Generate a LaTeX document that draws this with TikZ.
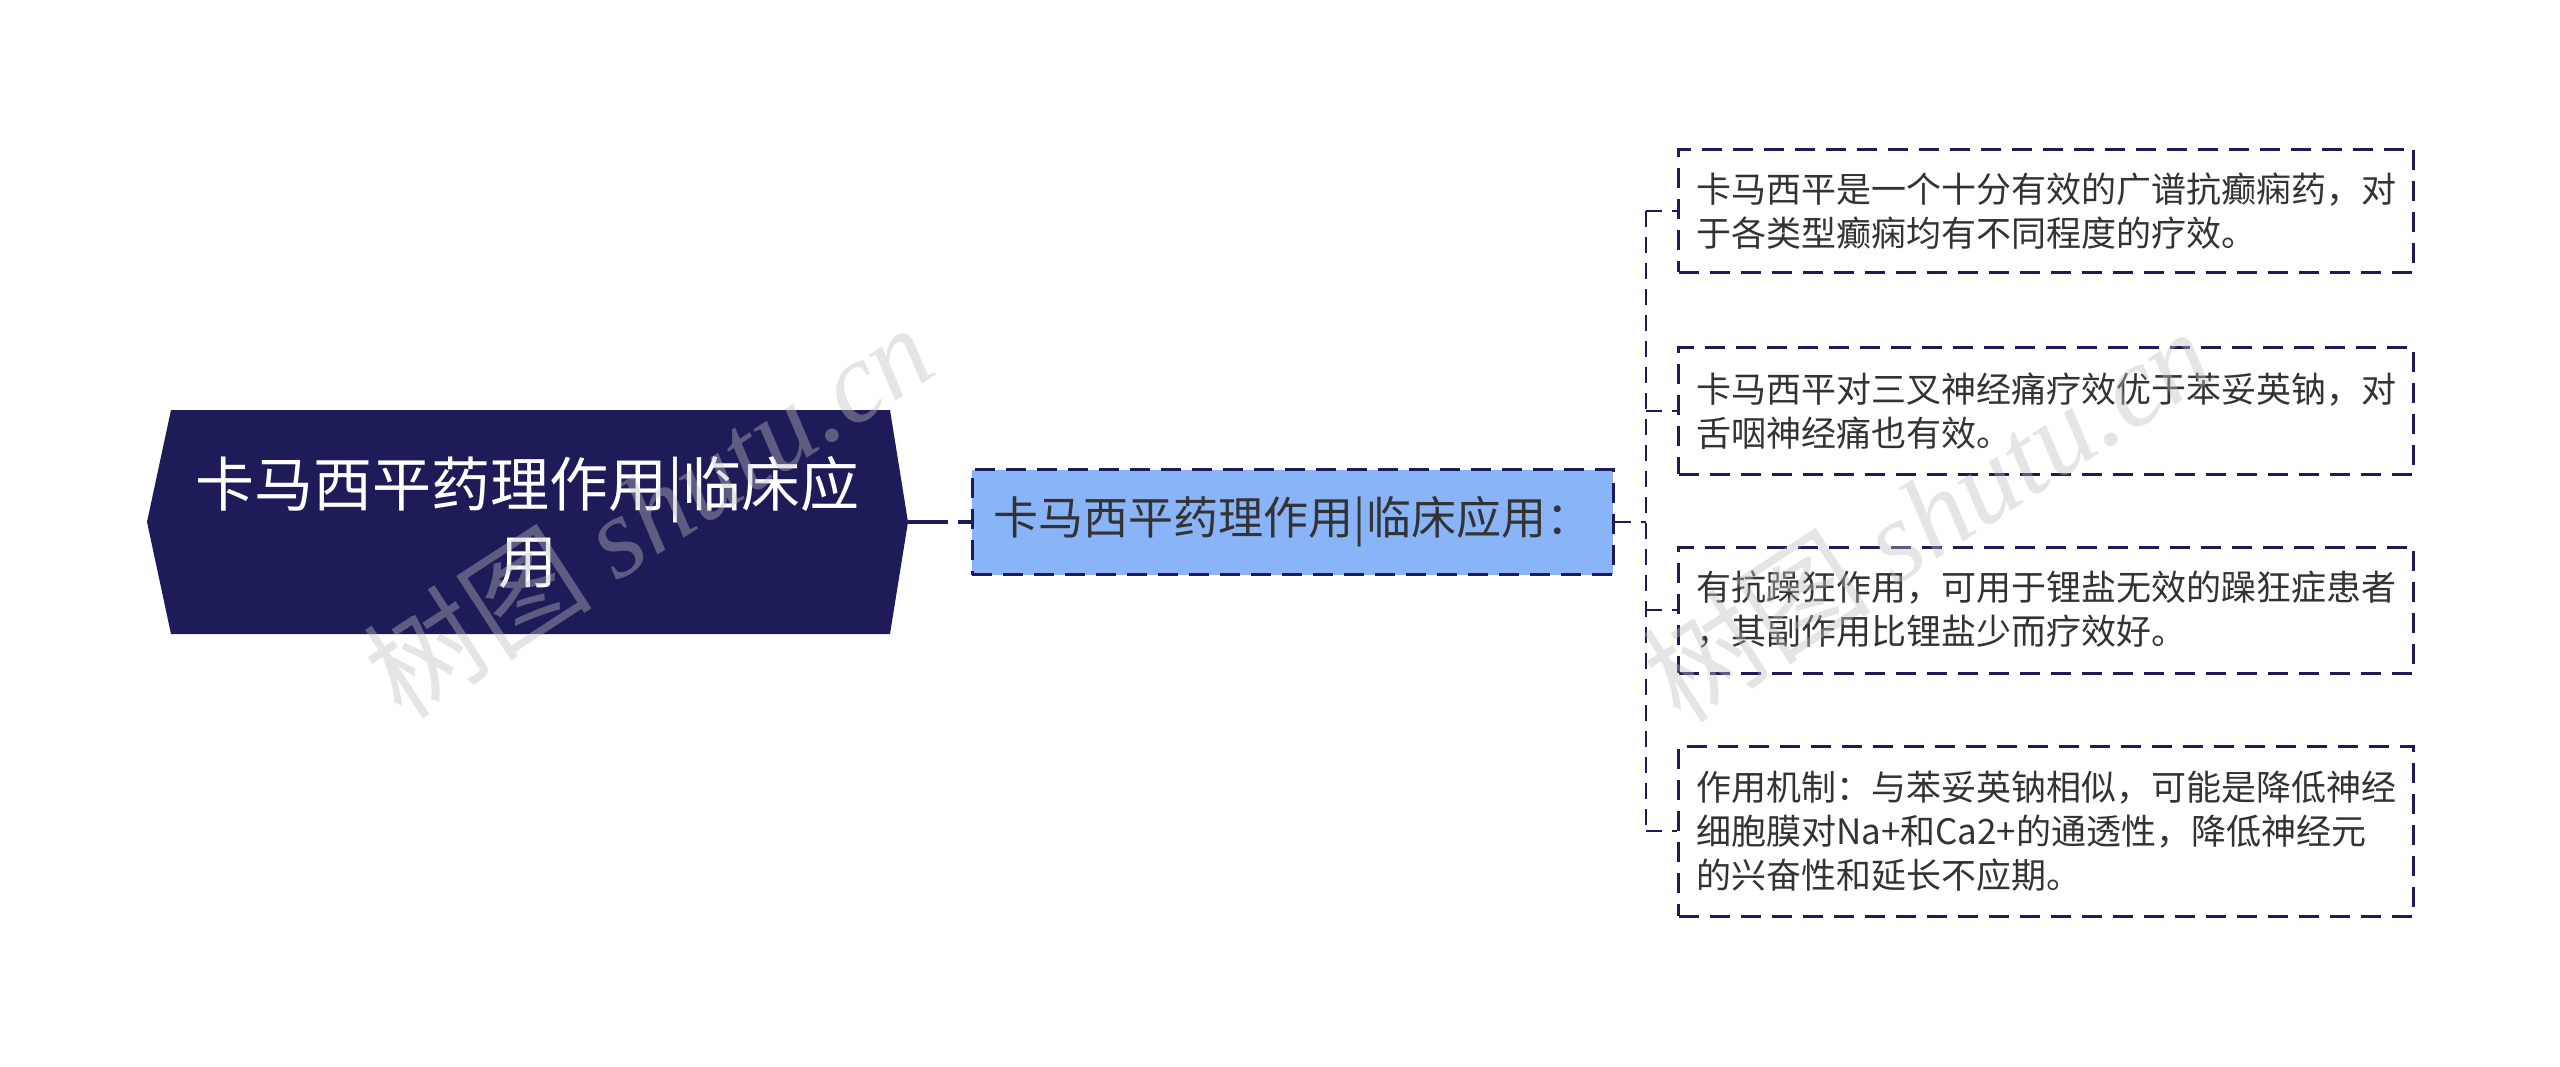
\documentclass[tikz,border=0pt]{standalone}
\usepackage{fontspec}
\setmainfont{Noto Sans CJK SC}
\newfontfamily\cjkfont{Noto Sans CJK SC}
\newfontfamily\wmserif{Liberation Serif}
\definecolor{navy}{HTML}{1E1B59}
\definecolor{lightblue}{HTML}{8AB4F8}
\definecolor{txtgray}{HTML}{333333}
\begin{document}
\begin{tikzpicture}[x=1pt,y=-1pt]
\tikzset{
  rootbox/.style={minimum width=761pt, minimum height=224pt, inner sep=0pt, align=center, text=white, font=\cjkfont\fontsize{59}{77}\selectfont},
  subbox/.style={draw=navy, line width=3pt, dash pattern=on 20pt off 11pt, fill=lightblue, minimum width=641pt, minimum height=105pt, inner sep=0pt, text=txtgray, font=\cjkfont\fontsize{45}{52}\selectfont},
  leafbox/.style={draw=navy, line width=3pt, dash pattern=on 20pt off 11pt, fill=white, text width=700pt, inner xsep=17.5pt, inner ysep=0pt, align=left, text=txtgray, font=\cjkfont\fontsize{35}{44}\selectfont, anchor=west},
  link/.style={draw=navy, line width=2.6pt, dash pattern=on 16pt off 10pt},
  rootlink/.style={draw=navy, line width=4.5pt, dash pattern=on 40pt off 10pt},
  watermark/.style={text=gray!50, text opacity=0.4, rotate=33, font=\cjkfont\fontsize{115}{115}\selectfont}
}
\useasboundingbox (0,0) rectangle (2560,1067);
% root shape
\fill[navy] (147,522) -- (171,410) -- (890,410) -- (908,522) -- (890,634) -- (171,634) -- cycle;
\node[rootbox] (root) at (527.5,522) {卡马西平药理作用|临床应\\用};
% sub node
\node[subbox] (sub) at (1292.5,522) {卡马西平药理作用|临床应用：};
% leaves
\node[leafbox, minimum height=123pt] (l1) at (1677,211) {卡马西平是一个十分有效的广谱抗癫痫药，对\\于各类型癫痫均有不同程度的疗效。};
\node[leafbox, minimum height=126pt] (l2) at (1677,411) {卡马西平对三叉神经痛疗效优于苯妥英钠，对\\舌咽神经痛也有效。};
\node[leafbox, minimum height=126pt] (l3) at (1677,610) {有抗躁狂作用，可用于锂盐无效的躁狂症患者\\，其副作用比锂盐少而疗效好。};
\node[leafbox, minimum height=170pt] (l4) at (1677,831) {作用机制：与苯妥英钠相似，可能是降低神经\\细胞膜对Na+和Ca2+的通透性，降低神经元\\的兴奋性和延长不应期。};
% connectors
\coordinate (tj) at (1646,522);
\draw[rootlink] (root.east) -- (sub.west);
\draw[link] (sub.east) -- (tj);
\draw[link] (tj |- l1.west) -- (tj |- l4.west);
\draw[link] (tj |- l1.west) -- (l1.west);
\draw[link] (tj |- l2.west) -- (l2.west);
\draw[link] (tj |- l3.west) -- (l3.west);
\draw[link] (tj |- l4.west) -- (l4.west);
% watermarks
\node[watermark] (wm1) at (648,510) {树图 {\wmserif\itshape shutu.cn}};
\node[watermark] (wm2) at (1927,514) {树图 {\wmserif\itshape shutu.cn}};
\end{tikzpicture}
\end{document}
